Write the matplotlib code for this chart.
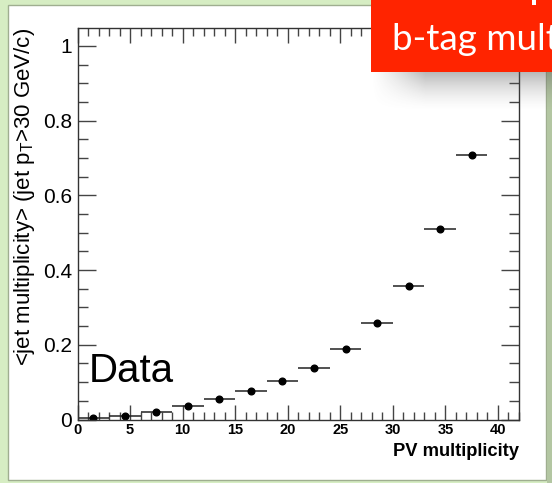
import numpy as np
import matplotlib
matplotlib.use("Agg")
from matplotlib import pyplot as plt
from matplotlib.patches import Rectangle
from matplotlib.ticker import MultipleLocator

W, H = 552, 483

# PV multiplicity bins (width 3) and mean jet multiplicity per bin
pv_centers = [1.5, 4.5, 7.5, 10.5, 13.5, 16.5, 19.5, 22.5, 25.5, 28.5, 31.5, 34.5, 37.5]
pv_halfwidth = 1.5
mean_jets = [0.004, 0.010, 0.021, 0.035, 0.056, 0.075, 0.104, 0.139, 0.188, 0.259, 0.358, 0.509, 0.709]

y_ticks = [0, 0.2, 0.4, 0.6, 0.8, 1.0]
y_ticklabels = ["0", "0.2", "0.4", "0.6", "0.8", "1"]
x_ticks = [0, 5, 10, 15, 20, 25, 30, 35, 40]

plt.rcParams["font.family"] = ["Liberation Sans", "DejaVu Sans"]
plt.rcParams["mathtext.fontset"] = "custom"
plt.rcParams["mathtext.rm"] = "Liberation Sans"


def px(x, y):
    # pixel coords (top-left origin) -> figure fraction
    return x / W, 1 - y / H


fig = plt.figure(figsize=(W / 100, H / 100), dpi=100)
fig.patch.set_facecolor("#d6edc3")

# slide panel
x0, y0 = px(8, 480)
fig.patches.append(Rectangle((x0, y0), (546 - 8) / W, (480 - 5) / H,
                             transform=fig.transFigure, fc="white",
                             ec="#9fae90", lw=1.0, zorder=-2))
# darker strip on the right edge
fig.patches.append(Rectangle(px(547, 483), 5 / W, 1, transform=fig.transFigure,
                             fc="#b3c6a2", ec="none", zorder=-2))

left, bottom = px(77.5, 419.5)
right, top = px(519, 28)
ax = fig.add_axes([left, bottom, right - left, top - bottom])
ax.set_facecolor("white")

ax.errorbar(pv_centers, mean_jets, xerr=pv_halfwidth, fmt="o", color="black",
            ms=4.8, ecolor="#222222", elinewidth=1.1, capsize=0)

ax.set_xlim(0, 42)
ax.set_ylim(0, 1.048)
ax.set_xticks(x_ticks)
ax.set_yticks(y_ticks)
ax.set_yticklabels(y_ticklabels)
ax.xaxis.set_minor_locator(MultipleLocator(1))
ax.yaxis.set_minor_locator(MultipleLocator(0.05))

ax.tick_params(axis="both", which="both", direction="in", top=True, right=True,
               color="#444444", width=1.0)
ax.tick_params(axis="y", which="major", length=13, labelsize=15, pad=4)
ax.tick_params(axis="y", which="minor", length=7)
ax.tick_params(axis="x", which="major", length=11, labelsize=10.5, pad=2.5)
ax.tick_params(axis="x", which="minor", length=6)
for lab in ax.get_xticklabels():
    lab.set_fontweight("bold")
for s in ax.spines.values():
    s.set_color("#333333")
    s.set_linewidth(1.0)

ax.set_xlabel("PV multiplicity", fontsize=13.2, fontweight="bold", loc="right", labelpad=4)
fig.text(25 / W, px(0, 197)[1], r"<jet multiplicity> (jet p$_{\mathregular{T}}$>30 GeV/c)",
         rotation=90, fontsize=16, ha="center", va="center")

ax.text(*px(89, 382), "Data", transform=fig.transFigure, fontsize=29,
        ha="left", va="baseline")

# shadow under the red title box
sh_ax = fig.add_axes([371 / W, 1 - 112 / H, (552 - 371) / W, 40 / H], zorder=4)
sh_ax.axis("off")
ty = np.linspace(0, 1, 40)[:, None]
tx = np.linspace(0, 1, 181)[None, :]
alpha = 0.42 * (1 - ty) ** 1.6 * np.clip(tx / 0.3, 0, 1) ** 1.2
rgba = np.zeros((40, 181, 4))
rgba[..., :3] = 0.35
rgba[..., 3] = alpha
sh_ax.imshow(rgba, aspect="auto", interpolation="bilinear")

# red title box
fig.patches.append(Rectangle(px(371, 72), (552 - 371) / W, 72 / H,
                             transform=fig.transFigure, fc="#ff2400", ec="none", zorder=5))
# bit of the line above, cut by the top edge
fig.patches.append(Rectangle(px(532, 5), 3.5 / W, 5 / H,
                             transform=fig.transFigure, fc="white", ec="none", zorder=6))
fig.text(*px(392, 50), "b-tag mult", color="white", fontsize=26.5,
         family="Lato", ha="left", va="baseline", zorder=6)

fig.savefig("out.png", dpi=100)
